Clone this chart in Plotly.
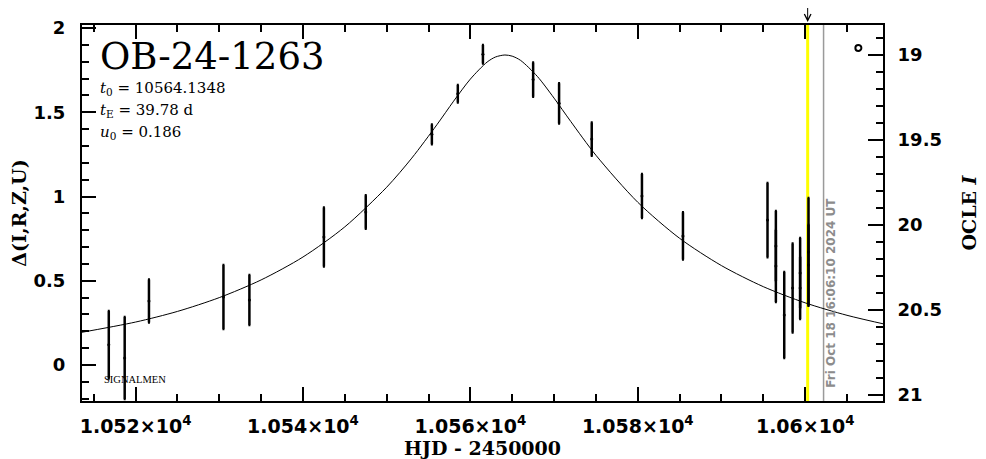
import plotly.graph_objects as go

# ---------------- data ----------------
obs_hjd = [10516.8, 10518.7, 10521.6, 10530.5, 10533.6, 10542.5, 10547.5,
           10555.4, 10558.5, 10561.5, 10567.5, 10570.6, 10574.5, 10580.5,
           10585.4, 10595.5, 10596.5, 10596.5, 10597.5, 10598.5, 10599.4,
           10599.4, 10600.4, 10600.4]
obs_delta = [0.12, 0.042, 0.38, 0.404, 0.386, 0.76, 0.908,
             1.369, 1.61, 1.845, 1.694, 1.553, 1.341, 1.003,
             0.766, 0.86, 0.706, 0.588, 0.297, 0.457, 0.546,
             0.457, 0.671, 0.593]
obs_err = [0.2, 0.243, 0.128, 0.19, 0.148, 0.175, 0.1,
           0.059, 0.052, 0.055, 0.102, 0.119, 0.099, 0.131,
           0.14, 0.22, 0.208, 0.214, 0.255, 0.264, 0.208,
           0.184, 0.32, 0.238]

model_hjd = [10513, 10520, 10525, 10530, 10535, 10540, 10545, 10550, 10553,
             10556, 10558, 10560, 10562, 10563, 10564.13, 10565, 10566, 10568,
             10570, 10572, 10575, 10580, 10585, 10590, 10595, 10600, 10605, 10610]
model_delta = [0.189, 0.255, 0.318, 0.400, 0.505, 0.641, 0.820, 1.055, 1.228,
               1.426, 1.566, 1.697, 1.798, 1.828, 1.840, 1.833, 1.808, 1.713,
               1.584, 1.445, 1.245, 0.966, 0.752, 0.590, 0.465, 0.369, 0.295, 0.237]

event_name = "OB-24-1263"
param_lines = ["<i>t</i><sub>0</sub> = 10564.1348",
               "<i>t</i><sub>E</sub> = 39.78 d",
               "<i>u</i><sub>0</sub> = 0.186"]
t_last = 10600.3
t_now = 10602.2
now_label = "Fri Oct 18 16:06:10 2024 UT"

x_ticks = [10520, 10540, 10560, 10580, 10600]
x_ticktext = ["1.052×10<sup>4</sup>", "1.054×10<sup>4</sup>", "1.056×10<sup>4</sup>",
              "1.058×10<sup>4</sup>", "1.06×10<sup>4</sup>"]
y_ticks = [0, 0.5, 1, 1.5, 2]
y_ticktext = ["0", "0.5", "1", "1.5", "2"]
mag_ticks = [19, 19.5, 20, 20.5, 21]
mag_ticktext = ["19", "19.5", "20", "20.5", "21"]

# ---------------- figure ----------------
fig = go.Figure()

fig.add_trace(go.Scatter(
    x=model_hjd, y=model_delta, mode="lines",
    line=dict(color="black", width=1, shape="spline", smoothing=0.8),
    showlegend=False, hoverinfo="skip"))

fig.add_trace(go.Scatter(
    x=obs_hjd, y=obs_delta, mode="markers",
    marker=dict(color="black", size=3),
    error_y=dict(type="data", array=obs_err, color="black", thickness=2.5, width=1),
    showlegend=False))

# dummy trace to activate right axis
fig.add_trace(go.Scatter(x=[None], y=[None], yaxis="y2", showlegend=False))

tickfont = dict(family="DejaVu Sans", size=18, color="black", weight="bold")
xtickfont = dict(family="DejaVu Sans", size=19, color="black", weight="bold")
titlefont = dict(family="DejaVu Serif", size=19, color="black", weight="bold")

fig.update_layout(
    width=986, height=459,
    margin=dict(l=74, r=111, t=17, b=66),
    paper_bgcolor="white", plot_bgcolor="white",
    font=dict(family="DejaVu Sans", color="black"),
    xaxis=dict(
        range=[10513.6, 10609.3], tickmode="array", tickvals=x_ticks,
        ticktext=x_ticktext, ticks="inside", ticklen=14, tickwidth=2,
        tickcolor="black", showline=True, linewidth=2, linecolor="black",
        mirror="ticks", showgrid=False, zeroline=False, automargin=False,
        tickfont=xtickfont, ticklabelstandoff=7,
        minor=dict(tickmode="linear", tick0=10520, dtick=5, ticks="inside",
                   ticklen=7, tickwidth=2, tickcolor="black", showgrid=False),
        title=dict(text="HJD - 2450000", font=titlefont, standoff=0)),
    yaxis=dict(
        range=[-0.2136, 2.018], tickmode="array", tickvals=y_ticks,
        ticktext=y_ticktext, ticks="inside", ticklen=14, tickwidth=2,
        tickcolor="black", showline=True, linewidth=2, linecolor="black",
        mirror=False, showgrid=False, zeroline=False, automargin=False,
        tickfont=tickfont, ticklabelstandoff=11,
        minor=dict(tickmode="linear", tick0=0, dtick=0.1, ticks="inside",
                   ticklen=7, tickwidth=2, tickcolor="black", showgrid=False),
        title=dict(text="Δ(I,R,Z,U)", font=titlefont, standoff=8)),
    yaxis2=dict(
        overlaying="y", side="right", anchor="x",
        range=[21.035, 18.824], tickmode="array", tickvals=mag_ticks,
        ticktext=mag_ticktext, ticks="inside", ticklen=15, tickwidth=2,
        tickcolor="black", showline=True, linewidth=2, linecolor="black",
        showgrid=False, zeroline=False, automargin=False,
        tickfont=tickfont, ticklabelstandoff=9,
        minor=dict(tickmode="linear", tick0=19, dtick=0.1, ticks="inside",
                   ticklen=7, tickwidth=2, tickcolor="black", showgrid=False),
        title=dict(text="OCLE <i>I</i>", font=titlefont, standoff=22)),
)

# vertical marker lines
fig.add_shape(type="line", xref="x", yref="paper", x0=t_last, x1=t_last, y0=0, y1=1,
              line=dict(color="#ffff00", width=3), layer="below")
fig.add_shape(type="line", xref="x", yref="paper", x0=t_now, x1=t_now, y0=0, y1=1,
              line=dict(color="#9a9a9a", width=1.5), layer="below")

# small circle at top right
fig.add_shape(type="circle", xref="paper", yref="paper",
              x0=0.9655, x1=0.973, y0=0.931, y1=0.947,
              line=dict(color="black", width=2), fillcolor="white")

# arrow above the yellow line
fig.add_annotation(x=t_last, y=1, xref="x", yref="paper", ax=0, ay=-22,
                   text="", showarrow=True, arrowhead=5, arrowsize=1.3,
                   arrowwidth=1, arrowcolor="black", yshift=3)

# date label
fig.add_annotation(x=t_now, y=0.287, xref="x", yref="paper", xshift=8,
                   text=now_label, showarrow=False, textangle=-90,
                   xanchor="center", yanchor="middle",
                   font=dict(family="DejaVu Sans", size=12, color="#8c8c8c", weight="bold"))

# event name and parameters
fig.add_annotation(x=0.02, y=0.915, xref="paper", yref="paper", text=event_name,
                   showarrow=False, xanchor="left", yanchor="middle",
                   font=dict(family="DejaVu Serif", size=37, color="black"))
for i, line in enumerate(param_lines):
    fig.add_annotation(x=0.02, y=0.832 - 0.0585 * i, xref="paper", yref="paper",
                       text=line, showarrow=False, xanchor="left", yanchor="middle",
                       font=dict(family="DejaVu Serif", size=15, color="black"))

fig.add_annotation(x=0.025, y=0.056, xref="paper", yref="paper", text="SIGNALMEN",
                   showarrow=False, xanchor="left", yanchor="middle",
                   font=dict(family="Liberation Serif", size=10.5, color="black"))

fig.write_html("out.html")
